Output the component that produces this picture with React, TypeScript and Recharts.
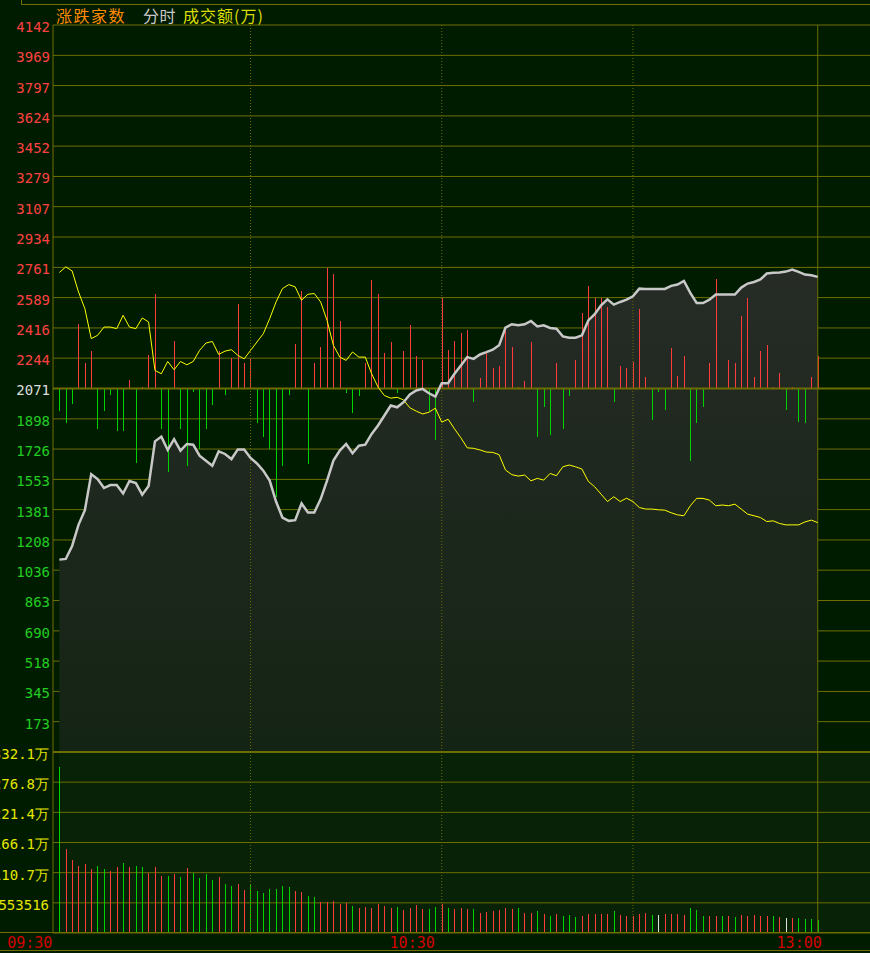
import React from "react";
import {
  ComposedChart,
  Area,
  Line,
  Bar,
  Cell,
  XAxis,
  YAxis,
  CartesianGrid,
  ReferenceLine,
} from "recharts";

// 涨家数 (white line), one point per minute
const upCount = [
  1096, 1100, 1174, 1294, 1378, 1583, 1555, 1504, 1521, 1521,
  1473, 1544, 1532, 1466, 1515, 1770, 1797, 1721, 1782, 1717,
  1755, 1751, 1688, 1660, 1631, 1713, 1698, 1669, 1724, 1724,
  1675, 1644, 1603, 1546, 1427, 1336, 1317, 1321, 1416, 1365,
  1365, 1441, 1546, 1660, 1717, 1755, 1702, 1745, 1751, 1812,
  1860, 1917, 1974, 1964, 1993, 2037, 2060, 2069, 2044, 2025,
  2101, 2101, 2155, 2202, 2250, 2240, 2265, 2278, 2292, 2317,
  2418, 2437, 2431, 2437, 2456, 2425, 2431, 2416, 2412, 2368,
  2360, 2360, 2374, 2459, 2494, 2545, 2579, 2549, 2564, 2577,
  2596, 2640, 2638, 2638, 2638, 2638, 2656, 2663, 2684, 2616,
  2558, 2558, 2577, 2606, 2606, 2606, 2606, 2646, 2669, 2678,
  2692, 2726, 2730, 2732, 2737, 2749, 2735, 2720, 2716, 2707,
];

// 跌家数 (yellow line)
const downCount = [
  2732, 2764, 2741, 2621, 2526, 2355, 2374, 2421, 2421, 2412,
  2488, 2421, 2412, 2473, 2450, 2174, 2155, 2225, 2178, 2225,
  2206, 2225, 2288, 2330, 2339, 2265, 2284, 2292, 2260, 2240,
  2288, 2336, 2383, 2469, 2564, 2640, 2663, 2650, 2574, 2608,
  2612, 2564, 2459, 2317, 2250, 2231, 2279, 2250, 2250, 2155,
  2079, 2031, 2016, 2021, 2006, 1961, 1942, 1926, 1936, 1959,
  1879, 1896, 1841, 1790, 1733, 1730, 1721, 1709, 1707, 1694,
  1607, 1580, 1572, 1578, 1545, 1559, 1549, 1587, 1574, 1625,
  1635, 1625, 1612, 1542, 1511, 1469, 1427, 1454, 1427, 1446,
  1427, 1393, 1384, 1384, 1380, 1378, 1363, 1351, 1346, 1403,
  1445, 1445, 1435, 1403, 1407, 1403, 1412, 1384, 1355, 1346,
  1336, 1313, 1317, 1302, 1294, 1294, 1294, 1311, 1321, 1307,
];

// red / green bars around the middle line
const diffBars = [
  -126, -198, -89, 365, 148, 211, -232, -126, -38, -244,
  -244, 46, -426, 11, 192, 537, -228, -478, 268, -228,
  -442, -21, -347, -228, -95, 211, -38, 175, 480, 148,
  175, -198, -278, -347, -621, -442, -38, 251, 554, -430,
  148, 234, 689, 651, 383, -27, -141, -44, 143, 617,
  537, 200, 263, -27, 211, 360, 183, 160, -129, -295,
  516, 217, 268, 314, 331, -78, 57, 206, 114, 126,
  326, 234, 11, 40, 263, -278, -107, -267, 143, -232,
  -44, 160, 430, 583, 516, 516, 465, -78, 131, 114,
  152, 451, 63, -181, -21, -124, 228, 74, 183, -415,
  -198, -107, 143, 623, 0, 160, 148, 411, 516, 63,
  211, 246, 11, 91, -124, 11, -192, -198, 63, 183,
];

// 成交额
const volume = [
  3040000, 1539000, 1336000, 1226000, 1263000, 1171000, 1226000, 1171000, 1134000, 1208000,
  1281000, 1208000, 1226000, 1208000, 1097000, 1208000, 1042000, 1042000, 1079000, 1024000,
  1189000, 1097000, 1005000, 1079000, 969000, 1024000, 907000, 858000, 895000, 785000,
  907000, 766000, 729000, 803000, 803000, 858000, 840000, 766000, 744000, 671000,
  653000, 561000, 561000, 580000, 525000, 543000, 488000, 451000, 470000, 451000,
  525000, 488000, 451000, 470000, 415000, 451000, 506000, 433000, 433000, 470000,
  525000, 451000, 433000, 451000, 433000, 433000, 360000, 378000, 397000, 415000,
  451000, 433000, 451000, 360000, 360000, 397000, 342000, 305000, 342000, 305000,
  323000, 287000, 305000, 342000, 342000, 342000, 342000, 397000, 323000, 305000,
  305000, 342000, 360000, 323000, 323000, 342000, 342000, 342000, 323000, 451000,
  415000, 305000, 305000, 305000, 305000, 305000, 287000, 323000, 305000, 323000,
  305000, 305000, 305000, 287000, 268000, 268000, 268000, 250000, 250000, 232000,
];

// u = up (red), d = down (green), f = flat (white)
const volumeTone = [
  "duuuuudduu", "dudduuudud", "uddddudduu", "ddddddduud",
  "duuuuuduuu", "uuuduuuudd", "uduuuduuuu", "uuduududud",
  "dduuuuuduu", "uuudfuuuud", "dduududuuu", "uudufudddd",
].join("").split("");

const MID = 2071;
const priceTicks = [
  173, 345, 518, 690, 863, 1036, 1208, 1381, 1553, 1726, 1898, 2071,
  2244, 2416, 2589, 2761, 2934, 3107, 3279, 3452, 3624, 3797, 3969, 4142,
];
const volTicks = [553516, 1107032, 1660548, 2214064, 2767580, 3321096];
const volTickLabels = ["553516", "110.7万", "166.1万", "221.4万", "276.8万", "332.1万"];
const timeTicks = [0, 60, 119];
const timeLabels = ["09:30", "10:30", "13:00"];

const rows = upCount.map((up, i) => ({
  i,
  up,
  down: downCount[i],
  d: diffBars[i],
  diff: [MID, MID + diffBars[i]],
  vol: volume[i],
  tone: volumeTone[i],
}));

const BG = "#001c00";
const GRID = "#6e6e00";
const RED = "#ff3b3b";
const GREEN = "#00d200";
const MONO = "'DejaVu Sans Mono', monospace";
const X_DOMAIN: [number, number] = [-1, 127.2];

const PriceTick = (p: any) => {
  const v = p.payload.value;
  const fill = v > MID ? "#ff4040" : v < MID ? "#22cc22" : "#dcdcdc";
  return (
    <text x={50} y={p.y + 2} dy="0.355em" textAnchor="end" fill={fill} fontSize={14} fontFamily={MONO}>
      {v}
    </text>
  );
};

const VolTick = (p: any) => (
  <text x={49} y={p.y + 2} dy="0.355em" textAnchor="end" fill="#e6e600" fontSize={14} fontFamily={MONO}>
    {volTickLabels[volTicks.indexOf(p.payload.value)]}
  </text>
);

const TimeTick = (p: any) => {
  const k = timeTicks.indexOf(p.payload.value);
  const x = k === timeTicks.length - 1 ? p.x + 4 : p.x - 7;
  return (
    <text x={x} y={204.5} dy="0.355em" textAnchor="end" fill="#d40000" fontSize={15} fontFamily={MONO}>
      {timeLabels[k]}
    </text>
  );
};

// 1px stick snapped to the pixel grid
const Stick = (p: any) => {
  const h = Math.abs(p.height || 0);
  if (!h) return <g />;
  const top = Math.min(p.y, p.y + p.height);
  return <rect x={Math.round(p.x + p.width / 2 - 0.5)} y={top} width={1} height={h} fill={p.fill} shapeRendering="crispEdges" />;
};

const toneColor = (t: string) => (t === "u" ? RED : t === "d" ? GREEN : "#e0e0e0");

export default function App() {
  return (
    <div style={{ position: "absolute", left: 0, top: 0, width: 870, height: 953, background: BG, overflow: "hidden" }}>
      {/* header */}
      <div style={{ position: "absolute", left: 21, top: 0, width: 1, height: 4, background: GRID }} />
      <div style={{ position: "absolute", left: 21, top: 4, width: 849, height: 1, background: GRID }} />
      <div style={{ position: "absolute", left: 56, top: 6, fontSize: 16, lineHeight: "18px", letterSpacing: 1.5, fontFamily: "'Noto Sans CJK SC'", color: "#ff8a00" }}>涨跌家数</div>
      <div style={{ position: "absolute", left: 143, top: 6, fontSize: 16, lineHeight: "18px", letterSpacing: 0.5, fontFamily: "'Noto Sans CJK SC'", color: "#c8c8c8" }}>分时</div>
      <div style={{ position: "absolute", left: 183, top: 6, fontSize: 16, lineHeight: "18px", letterSpacing: 1, fontFamily: "'Noto Sans CJK SC'", color: "#dcdc00" }}>成交额(万)</div>

      {/* bottom panel background */}
      <div style={{ position: "absolute", left: 59, top: 752, width: 811, height: 181, background: "#082208" }} />

      <div style={{ position: "absolute", left: 0, top: 0 }}>
        <ComposedChart width={870} height={752} data={rows} margin={{ top: 25, right: 0, bottom: 0, left: 0 }}>
          <defs>
            <linearGradient id="upFill" x1="0" y1="0" x2="0" y2="1">
              <stop offset="0%" stopColor="#262b26" />
              <stop offset="100%" stopColor="#142414" />
            </linearGradient>
          </defs>
          <CartesianGrid vertical={false} stroke={GRID} />
          <XAxis dataKey="i" type="number" domain={X_DOMAIN} hide allowDataOverflow />
          <YAxis
            domain={[0, 4142]}
            ticks={priceTicks}
            interval={0}
            width={53}
            tickLine={false}
            axisLine={{ stroke: GRID }}
            tick={PriceTick}
          />
          <Area dataKey="up" type="linear" stroke="none" fill="url(#upFill)" fillOpacity={1} baseValue={0} isAnimationActive={false} />
          <ReferenceLine x={30} stroke={GRID} strokeDasharray="1 2" />
          <ReferenceLine x={60} stroke={GRID} strokeDasharray="1 2" />
          <ReferenceLine x={90} stroke={GRID} strokeDasharray="1 2" />
          <ReferenceLine x={119} stroke={GRID} />
          <ReferenceLine y={0} stroke={GRID} strokeWidth={2} />
          <ReferenceLine y={MID} stroke={GRID} strokeWidth={2} />
          <Bar dataKey="diff" barSize={1} shape={Stick} isAnimationActive={false}>
            {rows.map((r, k) => (
              <Cell key={k} fill={r.d > 0 ? RED : GREEN} />
            ))}
          </Bar>
          <Line dataKey="down" type="linear" stroke="#ffff00" strokeWidth={1} dot={false} isAnimationActive={false} />
          <Line dataKey="up" type="linear" stroke="#c8c8c8" strokeWidth={2.5} dot={false} isAnimationActive={false} />
        </ComposedChart>
      </div>

      <div style={{ position: "absolute", left: 0, top: 738 }}>
        <ComposedChart width={870} height={215} data={rows} margin={{ top: 14, right: 0, bottom: 0, left: 0 }}>
          <CartesianGrid vertical={false} stroke={GRID} />
          <XAxis
            dataKey="i"
            type="number"
            domain={X_DOMAIN}
            allowDataOverflow
            ticks={timeTicks}
            interval={0}
            height={20}
            axisLine={false}
            tickLine={false}
            tick={TimeTick}
          />
          <YAxis
            domain={[0, 3321096]}
            ticks={volTicks}
            interval={0}
            width={53}
            tickLine={false}
            axisLine={{ stroke: GRID }}
            tick={VolTick}
          />
          <ReferenceLine x={30} stroke={GRID} strokeDasharray="1 2" />
          <ReferenceLine x={60} stroke={GRID} strokeDasharray="1 2" />
          <ReferenceLine x={90} stroke={GRID} strokeDasharray="1 2" />
          <ReferenceLine x={119} stroke={GRID} />
          <ReferenceLine y={3321096} stroke={GRID} strokeWidth={2} />
          <Bar dataKey="vol" barSize={1} shape={Stick} isAnimationActive={false}>
            {rows.map((r, k) => (
              <Cell key={k} fill={toneColor(r.tone)} />
            ))}
          </Bar>
        </ComposedChart>
      </div>

      {/* bottom axis lines */}
      <div style={{ position: "absolute", left: 0, top: 932, width: 870, height: 1, background: GRID }} />
      <div style={{ position: "absolute", left: 0, top: 950, width: 870, height: 1, background: GRID }} />
    </div>
  );
}
